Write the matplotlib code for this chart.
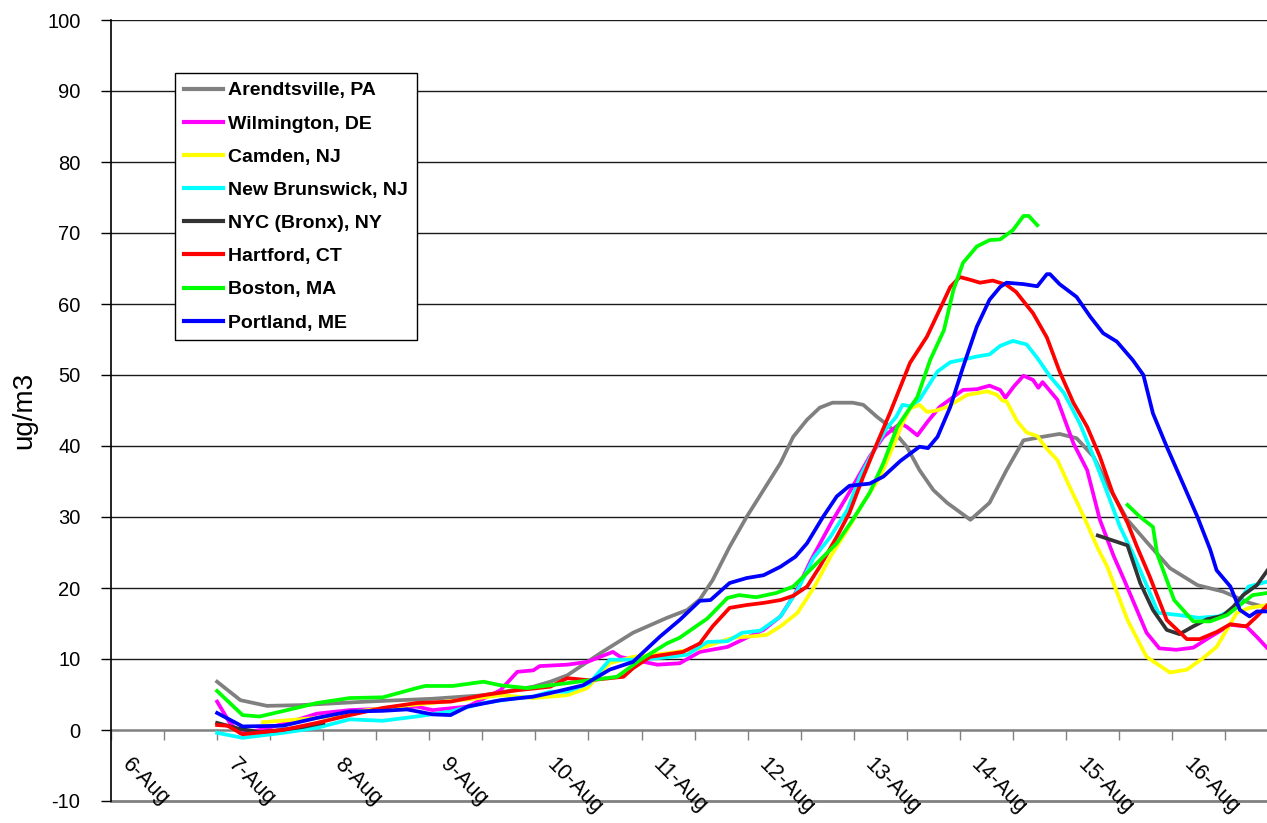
import numpy as np
import matplotlib
matplotlib.use("Agg")
import matplotlib.pyplot as plt

# ---------------- data (x = day of August, y = ug/m3) ----------------
day_labels = ["6-Aug", "7-Aug", "8-Aug", "9-Aug", "10-Aug", "11-Aug",
              "12-Aug", "13-Aug", "14-Aug", "15-Aug", "16-Aug"]
day_values = [6, 7, 8, 9, 10, 11, 12, 13, 14, 15, 16]

arend_t = [7.0, 7.22, 7.47, 7.78, 8.41, 9.03, 9.51, 9.98, 10.14, 10.30, 10.61, 10.92,
           11.24, 11.43, 11.55, 11.67, 11.83, 11.99, 12.15, 12.31, 12.43, 12.56, 12.68,
           12.80, 12.99, 13.09, 13.22, 13.34, 13.50, 13.62, 13.75, 13.88, 14.10, 14.28,
           14.44, 14.60, 14.78, 14.94, 15.10, 15.26, 15.42, 15.58, 15.76, 15.98, 16.24,
           16.48, 16.73, 16.90]
arend_v = [6.8, 4.2, 3.4, 3.5, 4.0, 4.4, 4.9, 6.1, 6.8, 7.7, 10.8, 13.7,
           15.8, 16.9, 18.4, 21.1, 25.8, 30.0, 33.8, 37.6, 41.3, 43.7, 45.4,
           46.1, 46.1, 45.8, 44.1, 42.7, 39.9, 36.6, 33.8, 32.0, 29.6, 32.0,
           36.6, 40.8, 41.3, 41.7, 41.1, 38.5, 33.8, 29.6, 26.5, 22.8, 20.4,
           19.5, 17.9, 17.2]

wilm_t = [7.0, 7.12, 7.22, 7.40, 7.66, 7.94, 8.25, 8.56, 8.88, 9.03, 9.36, 9.67, 9.83,
          9.98, 10.04, 10.30, 10.49, 10.73, 10.80, 10.92, 11.15, 11.36, 11.55, 11.81,
          11.99, 12.15, 12.31, 12.45, 12.60, 12.80, 12.96, 13.15, 13.28, 13.44, 13.50,
          13.60, 13.70, 13.81, 14.03, 14.16, 14.28, 14.38, 14.43, 14.51, 14.60, 14.69,
          14.74, 14.78, 14.92, 15.07, 15.20, 15.32, 15.45, 15.55, 15.76, 15.88, 16.04,
          16.20, 16.36, 16.55, 16.70, 16.80, 16.90]
wilm_v = [4.0, 1.0, -0.5, 0.0, 1.0, 2.3, 2.8, 3.0, 3.3, 2.8, 3.3, 5.6, 8.2,
          8.4, 9.0, 9.2, 9.6, 11.0, 10.3, 9.9, 9.2, 9.4, 11.0, 11.7,
          13.0, 14.1, 16.0, 19.3, 24.0, 29.5, 33.5, 38.5, 41.3, 43.2, 42.7,
          41.5, 43.5, 45.5, 47.9, 48.0, 48.5, 47.9, 46.8, 48.4, 49.9, 49.3,
          48.2, 49.0, 46.5, 40.4, 36.6, 29.6, 24.5, 21.1, 13.7, 11.5, 11.3,
          11.6, 13.1, 14.8, 14.6, 13.1, 11.5]

camden_t = [7.43, 7.94, 8.41, 8.88, 9.36, 9.67, 9.98, 10.14, 10.30, 10.49, 10.70, 10.92,
            11.24, 11.55, 11.86, 12.05, 12.18, 12.31, 12.47, 12.63, 12.78, 12.94, 13.09,
            13.25, 13.37, 13.46, 13.53, 13.62, 13.69, 13.78, 13.88, 14.07, 14.26, 14.35,
            14.40, 14.44, 14.54, 14.63, 14.73, 14.82, 14.92, 15.04, 15.17, 15.30, 15.39,
            15.58, 15.76, 15.98, 16.14, 16.29, 16.42, 16.61, 16.73, 16.90]
camden_v = [1.1, 1.7, 2.8, 3.6, 4.3, 4.9, 4.5, 4.7, 4.9, 5.9, 9.4, 10.3,
            10.8, 11.5, 13.0, 13.2, 13.4, 14.6, 16.5, 20.2, 24.4, 28.2, 32.0,
            35.7, 39.9, 43.2, 45.3, 45.8, 44.8, 45.0, 45.5, 47.2, 47.7, 47.2,
            46.4, 46.3, 43.5, 41.9, 41.4, 39.6, 38.0, 34.1, 30.0, 25.6, 23.0,
            15.5, 10.3, 8.1, 8.5, 10.1, 11.7, 16.5, 17.2, 17.6]

newbr_t = [7.0, 7.24, 7.62, 7.94, 8.25, 8.56, 8.88, 9.20, 9.51, 9.83, 9.98, 10.14,
           10.30, 10.51, 10.70, 10.92, 11.15, 11.43, 11.62, 11.81, 11.95, 12.12, 12.31,
           12.47, 12.62, 12.78, 12.94, 13.06, 13.19, 13.31, 13.40, 13.46, 13.53, 13.62,
           13.70, 13.79, 13.91, 14.04, 14.16, 14.28, 14.38, 14.50, 14.63, 14.73, 14.85,
           14.98, 15.13, 15.26, 15.38, 15.51, 15.63, 15.78, 15.87, 16.06, 16.25, 16.44,
           16.60, 16.72, 16.90]
newbr_v = [-0.4, -1.1, -0.4, 0.3, 1.5, 1.3, 1.9, 2.6, 3.8, 4.5, 4.7, 5.4,
           5.4, 6.6, 9.9, 9.9, 10.1, 10.6, 12.4, 12.5, 13.7, 14.0, 16.0,
           19.7, 24.2, 27.2, 31.0, 35.7, 39.4, 42.5, 44.1, 45.8, 45.6, 46.5,
           48.4, 50.5, 51.8, 52.2, 52.6, 52.9, 54.1, 54.8, 54.3, 52.4, 49.8,
           47.5, 43.2, 38.5, 33.8, 28.6, 24.9, 19.7, 16.5, 16.2, 15.8, 16.0,
           17.2, 20.2, 20.9]

nyc_t = [7.0, 7.2, 7.4, 7.6, 7.8, 8.0, 8.1, 15.30, 15.42, 15.58, 15.70, 15.82,
         15.95, 16.07, 16.20, 16.33, 16.48, 16.58, 16.67, 16.80, 16.90]
nyc_v = [1.0, 0.2, -0.3, 0.0, 0.4, 1.0, np.nan, 27.4, 26.8, 26.0, 20.7, 16.9,
         14.1, 13.5, 14.6, 15.6, 16.1, 17.4, 19.0, 20.4, 22.5]

hart_t = [7.0, 7.1, 7.24, 7.62, 7.94, 8.25, 8.56, 8.88, 9.20, 9.51, 9.83, 10.14,
          10.30, 10.51, 10.83, 10.92, 11.08, 11.39, 11.55, 11.67, 11.83, 11.99, 12.15,
          12.31, 12.43, 12.56, 12.68, 12.84, 12.96, 13.09, 13.22, 13.34, 13.53, 13.69,
          13.81, 13.91, 14.00, 14.10, 14.19, 14.31, 14.44, 14.53, 14.69, 14.82, 14.94,
          15.07, 15.20, 15.32, 15.44, 15.58, 15.67, 15.79, 15.95, 16.14, 16.26, 16.42,
          16.55, 16.70, 16.80, 16.90]
hart_v = [0.7, 0.6, -0.6, 0.0, 1.0, 2.1, 3.1, 3.8, 4.0, 4.9, 5.6, 6.1,
          7.3, 7.0, 7.5, 8.7, 10.3, 11.0, 12.2, 14.6, 17.2, 17.6, 17.9,
          18.3, 18.9, 20.2, 23.0, 27.2, 30.6, 35.7, 40.4, 44.6, 51.7, 55.4,
          59.2, 62.4, 63.8, 63.4, 63.0, 63.3, 62.7, 61.7, 58.7, 55.3, 50.5,
          46.1, 42.7, 38.5, 33.4, 29.2, 25.8, 21.6, 15.5, 12.8, 12.8, 13.8,
          14.9, 14.6, 16.0, 17.6]

bost_t = [7.0, 7.24, 7.40, 7.66, 7.94, 8.25, 8.56, 8.88, 8.96, 9.22, 9.51, 9.67,
          9.92, 10.14, 10.30, 10.77, 10.99, 11.24, 11.36, 11.62, 11.81, 11.92, 12.08,
          12.27, 12.43, 12.56, 12.68, 12.84, 12.99, 13.15, 13.28, 13.41, 13.60, 13.72,
          13.85, 13.94, 14.03, 14.16, 14.28, 14.38, 14.50, 14.60, 14.65, 14.73, 15.0,
          15.58, 15.70, 15.82, 15.86, 16.02, 16.20, 16.36, 16.52, 16.64, 16.76, 16.90]
bost_v = [5.5, 2.1, 1.9, 2.8, 3.8, 4.5, 4.6, 5.9, 6.2, 6.2, 6.8, 6.3,
          5.9, 6.3, 6.6, 7.5, 9.9, 12.2, 13.0, 15.7, 18.6, 19.0, 18.7,
          19.3, 20.2, 22.1, 23.9, 26.3, 29.6, 33.4, 37.6, 42.7, 46.9, 52.1,
          56.3, 62.0, 65.8, 68.1, 69.0, 69.1, 70.4, 72.4, 72.4, 71.1, np.nan,
          31.7, 30.0, 28.6, 24.8, 18.3, 15.3, 15.3, 16.2, 17.6, 19.0, 19.3]

port_t = [7.0, 7.24, 7.62, 7.94, 8.25, 8.56, 8.79, 9.03, 9.20, 9.36, 9.67, 9.98,
          10.14, 10.45, 10.70, 10.92, 11.17, 11.36, 11.55, 11.65, 11.83, 11.99, 12.15,
          12.31, 12.45, 12.56, 12.71, 12.84, 12.96, 13.15, 13.28, 13.44, 13.62, 13.70,
          13.79, 13.91, 14.03, 14.16, 14.28, 14.38, 14.44, 14.60, 14.73, 14.82, 14.85,
          14.94, 15.10, 15.23, 15.35, 15.48, 15.63, 15.73, 15.82, 15.95, 16.10, 16.24,
          16.36, 16.42, 16.55, 16.64, 16.73, 16.80, 16.90]
port_v = [2.4, 0.5, 0.6, 1.7, 2.6, 2.7, 2.9, 2.2, 2.1, 3.3, 4.2, 4.7,
          5.2, 6.3, 8.5, 9.6, 13.1, 15.5, 18.2, 18.3, 20.7, 21.4, 21.8,
          23.0, 24.4, 26.3, 30.0, 32.9, 34.4, 34.7, 35.7, 37.9, 39.9, 39.7,
          41.3, 45.5, 51.1, 56.8, 60.6, 62.4, 63.0, 62.8, 62.5, 64.2, 64.2,
          62.8, 61.0, 58.2, 55.9, 54.7, 52.1, 50.0, 44.6, 39.9, 34.8, 30.0,
          25.4, 22.5, 20.2, 16.9, 16.0, 16.7, 16.7]

series_names = ["Arendtsville, PA", "Wilmington, DE", "Camden, NJ", "New Brunswick, NJ",
                "NYC (Bronx), NY", "Hartford, CT", "Boston, MA", "Portland, ME"]
series_t = [arend_t, wilm_t, camden_t, newbr_t, nyc_t, hart_t, bost_t, port_t]
series_v = [arend_v, wilm_v, camden_v, newbr_v, nyc_v, hart_v, bost_v, port_v]
series_colors = ["#808080", "#FF00FF", "#FFFF00", "#00FFFF", "#333333",
                 "#FF0000", "#00FF00", "#0000FF"]

# ---------------- figure ----------------
plt.rcParams["font.family"] = ["Liberation Sans", "DejaVu Sans"]
plt.rcParams["axes.unicode_minus"] = False

W, H = 1267, 823
fig = plt.figure(figsize=(W / 100, H / 100), dpi=100)
ax = fig.add_axes([111 / W, 1 - 801 / H, 1156 / W, 781 / H])

ax.set_xlim(6, 16.895)
ax.set_ylim(-10, 100)

# horizontal gridlines
for g in range(10, 101, 10):
    ax.axhline(g, color="#1a1a1a", lw=1.0, zorder=1)
ax.axhline(-10, color="#808080", lw=2.0, zorder=1, clip_on=False)

for t, v, c, n in zip(series_t, series_v, series_colors, series_names):
    ax.plot(t, v, color=c, lw=2.7, label=n, zorder=3, solid_joinstyle="round")

# spines
for s in ["top", "right"]:
    ax.spines[s].set_visible(False)
ax.spines["bottom"].set_position(("data", 0))
ax.spines["bottom"].set_color("#808080")
ax.spines["bottom"].set_linewidth(1.8)
ax.spines["bottom"].set_zorder(2)
ax.spines["left"].set_color("#000000")
ax.spines["left"].set_linewidth(1.2)

ax.set_yticks(range(-10, 101, 10))
ax.tick_params(axis="y", direction="out", length=7, width=1, color="#000000",
               labelsize=14.5, pad=15)
ax.set_xticks(np.arange(6, 17.0, 0.5))
ax.set_xticklabels([])
ax.tick_params(axis="x", direction="out", length=7, width=1, color="#808080")

for d, lab in zip(day_values, day_labels):
    ax.text(d + 7 / 106.1, -3.4, lab, rotation=-45, ha="left", va="top",
            fontsize=15.5, clip_on=False, zorder=5)

ax.set_ylabel("ug/m3", fontsize=20)
ax.yaxis.set_label_coords(-0.064, 0.5)

leg = ax.legend(loc="upper left", bbox_to_anchor=((175 - 111) / 1156, (801 - 73) / 781),
                borderaxespad=0, frameon=True, fancybox=False, edgecolor="#000000",
                framealpha=1, prop={"weight": "bold", "size": 14},
                handlelength=2.0, handletextpad=0.3, labelspacing=0.8,
                borderpad=0.45)
leg.get_frame().set_linewidth(1.0)
for h in leg.get_lines():
    h.set_linewidth(3.0)

fig.savefig("out.png", dpi=100)
